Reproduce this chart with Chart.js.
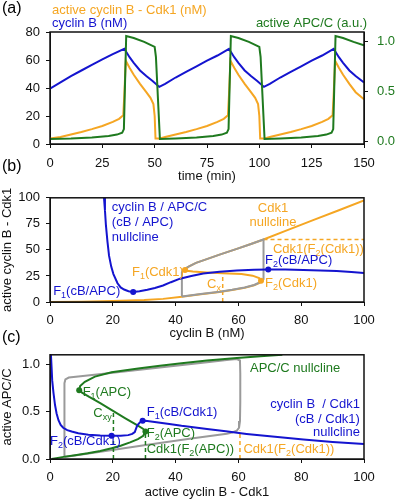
<!DOCTYPE html>
<html>
<head>
<meta charset="utf-8">
<script src="https://cdn.jsdelivr.net/npm/chart.js@4.4.1/dist/chart.umd.min.js"></script>
<style>
  html, body { margin: 0; padding: 0; background: #fff; }
  #page { position: relative; width: 396px; height: 500px; overflow: hidden;
          font-family: "Liberation Sans", Arial, sans-serif; }
  canvas { position: absolute; left: 0; }
  .tag { position: absolute; left: 2px; font-size: 16px; line-height: 16px; color: #000; }
</style>
</head>
<body>
<div id="page">
  <canvas id="ca" width="396" height="184" style="top:0"></canvas>
  <canvas id="cb" width="396" height="157" style="top:184px"></canvas>
  <canvas id="cc" width="396" height="159" style="top:341px"></canvas>
  <div class="tag" style="top:0">(a)</div>
  <div class="tag" style="top:158px">(b)</div>
  <div class="tag" style="top:329px">(c)</div>
</div>
<script>
// ---- panel (a): time courses ----
const timeTicks = [0, 25, 50, 75, 100, 125, 150];
const nMTicks = [0, 20, 40, 60, 80];
const apcTicks = [0, 0.5, 1];

const cyclinBTime = [0, 5, 10, 15, 20, 25, 30, 35.5, 38, 40, 43, 46, 49, 52.2,
  55, 60, 65, 70, 75, 80, 85.5, 88, 90, 93, 96, 99, 102.2,
  105, 110, 115, 120, 125, 130, 135.5, 138, 140, 143, 146, 150];
const cyclinB = [39.5, 44, 48.5, 52.5, 56.5, 60.5, 64.2, 68, 62, 58, 52.5, 48.5, 45, 40.8,
  43, 47.5, 51.5, 55.5, 59.5, 63.2, 68, 62, 58, 52.5, 48.5, 45, 40.8,
  43, 47.5, 51.5, 55.5, 59.5, 63.2, 68, 62, 58, 52.5, 48.5, 44];

const cdk1Time = [0, 5, 10, 15, 20, 25, 30, 33, 35, 35.5, 36.2, 38, 40, 43, 46, 48, 49.4, 50, 50.4, 52.5,
  55, 60, 65, 70, 75, 80, 83, 85, 85.5, 86.2, 88, 90, 93, 96, 98, 99.4, 100, 100.4, 102.5,
  105, 110, 115, 120, 125, 130, 133, 135, 135.5, 136.2, 138, 140, 143, 146, 150];
const cdk1 = [4, 5, 6.8, 8.6, 10.6, 12.9, 15.8, 18, 20.5, 35, 59.5, 54.5, 49.5, 43, 37, 33, 28.5, 20, 4, 4,
  5, 6.8, 8.6, 10.6, 12.9, 15.8, 18, 20.5, 35, 59.5, 54.5, 49.5, 43, 37, 33, 28.5, 20, 4, 4,
  5, 6.8, 8.6, 10.6, 12.9, 15.8, 18, 20.5, 35, 59.5, 54.5, 49.5, 43, 37, 32];

const apcTime = [0, 10, 20, 28, 32, 34.5, 35.3, 36.4, 40, 45, 50, 50.6, 52.5,
  60, 70, 78, 82, 84.5, 85.3, 86.4, 90, 95, 100, 100.6, 102.5,
  110, 120, 128, 132, 134.5, 135.3, 136.4, 140, 145, 150];
const apc = [0.02, 0.025, 0.035, 0.05, 0.065, 0.085, 0.12, 1.06, 1.04, 1.0, 0.95, 0.85, 0.02,
  0.025, 0.035, 0.05, 0.065, 0.085, 0.12, 1.06, 1.04, 1.0, 0.95, 0.85, 0.02,
  0.025, 0.035, 0.05, 0.065, 0.085, 0.12, 1.06, 1.04, 1.0, 0.965];

// ---- panel (b): cyclin B vs active cyclin B-Cdk1 ----
const bXTicks = [0, 20, 40, 60, 80, 100];
const bYTicks = [0, 25, 50, 75, 100];

const bApcNullX = [17.2, 17.5, 17.8, 18.3, 18.8, 19.5, 20.2, 21.5, 22.5, 23.6, 25, 26.5, 28.5, 31, 33.4, 36,
  38.5, 41.4, 45, 48.8, 54, 59.5, 65, 69.5, 75, 80.7, 86, 91.3, 96, 100];
const bApcNullY = [100, 88, 74, 58, 44.5, 34, 26.8, 18, 14, 12, 10.3, 9.7, 10.3, 11.8, 13.5, 15.8,
  19, 22.4, 25, 27.4, 29, 30.2, 31, 31.3, 31.1, 30.7, 30.3, 29.8, 28.8, 27.8];

const bCdk1NullX = [0, 10, 20, 30, 36, 42, 48, 54, 58, 62, 65, 66.7, 67.2, 66.6, 64.5, 61, 55, 50, 45.5, 43.6, 43,
  43.4, 44.3, 46.5, 48.8, 54, 59.5, 64, 68, 75, 84, 92, 100];
const bCdk1NullY = [0, 0.3, 0.9, 1.9, 3, 5, 7.5, 9.7, 11.5, 13.7, 16, 18.2, 20.4, 23, 25.3, 26.8, 27.6, 28.4, 29.2, 29.9, 30.7,
  32.2, 34.2, 37.6, 40, 45.5, 51, 55.7, 60, 68.3, 78.8, 88, 97.5];

const bTrajX = [42, 48, 54, 58, 62, 65, 67.3, 68, 68, 64, 59.5, 54, 48.8, 46.5, 44.3, 43.1, 42.2, 42, 42];
const bTrajY = [5.3, 7.7, 9.9, 11.7, 13.9, 16.3, 19.6, 22, 60, 55.7, 51, 45.5, 40, 37.6, 34.3, 32.2, 30.3, 28.5, 5.3];

const bCxX = [55, 55];
const bCxY = [0, 27.6];
const bLevelX = [68, 100];
const bLevelY = [60, 60];

const bApcFoldX = [26.5, 69.5];
const bApcFoldY = [9.7, 31.3];
const bCdk1FoldX = [43, 67.2];
const bCdk1FoldY = [30.7, 20.4];

// ---- panel (c): active cyclin B-Cdk1 vs active APC/C ----
const cXTicks = [0, 20, 40, 60, 80, 100];
const cYTicks = [0, 0.5, 1];

const cCdk1NullX = [0.3, 0.5, 0.7, 1.1, 1.6, 2.1, 2.7, 3.4, 4.2, 5.5, 6.9, 9, 12.2, 16, 19.6, 22.5, 24.9, 26.2,
  27, 27.4, 27.8, 28.6, 29.5, 31, 34.5, 38, 41.9, 50, 56, 62.6, 70, 80.7, 90, 100];
const cCdk1NullY = [1.1, 0.97, 0.83, 0.7, 0.57, 0.48, 0.41, 0.36, 0.33, 0.305, 0.29, 0.272, 0.257, 0.249, 0.245, 0.246, 0.252, 0.265,
  0.285, 0.32, 0.355, 0.385, 0.405, 0.402, 0.385, 0.37, 0.35, 0.317, 0.292, 0.265, 0.24, 0.207, 0.18, 0.158];

const cApcNullX = [0.5, 2.5, 4.8, 8, 12, 16, 19.6, 22.5, 25.5, 28, 29.7, 30.4, 29.6, 27.6, 24, 20.2, 16, 12.5, 10.2, 9.3,
  9.6, 11.1, 14.3, 19.6, 28.1, 35, 41.9, 50, 59.5, 67, 74];
const cApcNullY = [0, 0.012, 0.025, 0.04, 0.06, 0.085, 0.113, 0.14, 0.175, 0.21, 0.245, 0.29, 0.32, 0.36, 0.43, 0.505, 0.59, 0.655, 0.7, 0.73,
  0.77, 0.815, 0.87, 0.915, 0.955, 0.985, 1.012, 1.04, 1.065, 1.085, 1.1];

const cTrajX = [4.6, 4.6, 4.9, 6, 9, 20, 30, 40, 50, 57, 59.5, 60.5, 60.6, 60.6, 60.5, 60.2, 59.5, 58, 56.3, 45, 30, 15, 4.6];
const cTrajY = [0.022, 0.8, 0.84, 0.86, 0.872, 0.91, 0.947, 0.985, 1.022, 1.048, 1.055, 1.04, 0.9, 0.6, 0.4, 0.33, 0.3, 0.28, 0.266, 0.216, 0.144, 0.072, 0.022];

const cCxyX = [20.2, 20.2];
const cCxyY = [0, 0.505];
const cApcFoldLineX = [30.4, 30.4];
const cApcFoldLineY = [0, 0.29];
const cCdk1LevelX = [60.5, 60.5];
const cCdk1LevelY = [0, 0.3];

const cApcFoldX = [9.3, 30.4];
const cApcFoldY = [0.725, 0.29];
const cCdk1FoldX = [19.6, 29.5];
const cCdk1FoldY = [0.245, 0.405];

// ---- styling ----
const FONT = '"Liberation Sans", Arial, sans-serif';
const BLUE = '#1414cf';
const ORANGE = '#f5a623';
const GREEN = '#1f7a1f';
const GRAY = '#9a9a9a';
const BLACK = '#111';

const pts = (xs, ys) => xs.map((x, i) => ({ x, y: ys[i] }));

function curve(xs, ys, color, extra) {
  return Object.assign({
    data: pts(xs, ys),
    borderColor: color,
    backgroundColor: color,
    borderWidth: 2,
    pointRadius: 0,
    showLine: true,
    tension: 0,
  }, extra || {});
}

function dashed(xs, ys, color) {
  return curve(xs, ys, color, { borderWidth: 1.5, borderDash: [4, 3] });
}

function dots(xs, ys, color) {
  return {
    data: pts(xs, ys),
    showLine: false,
    pointRadius: 3,
    pointBorderWidth: 0,
    backgroundColor: color,
    borderColor: color,
  };
}

function fixedTicks(values) {
  return (scale) => { scale.ticks = values.map((v) => ({ value: v })); };
}

function tickOpts(color, padding, fmt) {
  const t = { color, font: { family: FONT, size: 13 }, padding, maxRotation: 0, autoSkip: false };
  if (fmt) t.callback = fmt;
  return t;
}

function axis(min, max, tickValues, extra) {
  const a = {
    type: 'linear',
    min, max,
    afterBuildTicks: fixedTicks(tickValues),
    grid: { display: true, drawOnChartArea: false, drawTicks: true, tickLength: 4, color: BLACK, lineWidth: 1 },
    border: { display: true, color: BLACK, width: 1 },
    ticks: tickOpts(BLACK, 6),
  };
  return Object.assign(a, extra || {});
}

function title(text) {
  return { display: true, text, color: BLACK, font: { family: FONT, size: 13 }, padding: { top: 0, bottom: 0 } };
}

// rich text with {subscript} parts
function drawRich(ctx, text, x, y, align, color) {
  const parts = text.split(/(\{[^}]*\})/).filter(Boolean)
    .map((p) => (p[0] === '{' ? { t: p.slice(1, -1), sub: true } : { t: p, sub: false }));
  const big = '13px ' + FONT;
  const small = '9px ' + FONT;
  let w = 0;
  parts.forEach((p) => { ctx.font = p.sub ? small : big; p.w = ctx.measureText(p.t).width; w += p.w; });
  let cx = align === 'right' ? x - w : align === 'center' ? x - w / 2 : x;
  ctx.fillStyle = color;
  ctx.textBaseline = 'middle';
  ctx.textAlign = 'left';
  parts.forEach((p) => {
    ctx.font = p.sub ? small : big;
    ctx.fillText(p.t, cx, p.sub ? y + 4 : y);
    cx += p.w;
  });
}

const notesPlugin = {
  id: 'notes',
  afterDatasetsDraw(chart, args, opts) {
    const { ctx, scales } = chart;
    ctx.save();
    (opts.items || []).forEach((n) => {
      const ys = scales[n.axis || 'y'];
      drawRich(ctx, n.text, scales.x.getPixelForValue(n.x), ys.getPixelForValue(n.y), n.align || 'left', n.color);
    });
    ctx.restore();
  },
};

const framePlugin = {
  id: 'frame',
  afterDraw(chart) {
    const { ctx, chartArea: a } = chart;
    ctx.save();
    ctx.strokeStyle = BLACK;
    ctx.lineWidth = 1.5;
    ctx.strokeRect(a.left, a.top, a.right - a.left, a.bottom - a.top);
    ctx.restore();
  },
};

Chart.register(notesPlugin, framePlugin);

const common = {
  responsive: false,
  animation: false,
  devicePixelRatio: 1,
  events: [],
};

const aNotes = [
  { x: 1, y: 95.7, text: 'active cyclin B - Cdk1 (nM)', color: ORANGE },
  { x: 1, y: 86.4, text: 'cyclin B (nM)', color: BLUE },
  { x: 151.5, y: 86.4, text: 'active APC/C (a.u.)', color: GREEN, align: 'right' },
];

new Chart(document.getElementById('ca'), {
  type: 'scatter',
  data: {
    datasets: [
      curve(apcTime, apc, GREEN, { yAxisID: 'y2' }),
      curve(cyclinBTime, cyclinB, BLUE),
      curve(cdk1Time, cdk1, ORANGE),
    ],
  },
  options: Object.assign({}, common, {
    layout: { padding: { top: 32, left: 0, right: 0, bottom: 0 } },
    plugins: { legend: { display: false }, tooltip: { enabled: false }, notes: { items: aNotes } },
    scales: {
      x: axis(0, 150, timeTicks, {
        position: 'bottom', title: title('time (min)'),
        ticks: tickOpts(BLACK, 8),
        afterFit: (s) => { s.height = 40; },
      }),
      y: axis(0, 80, nMTicks, { position: 'left', afterFit: (s) => { s.width = 50; } }),
      y2: axis(-0.03, 1.1, apcTicks, {
        position: 'right',
        afterFit: (s) => { s.width = 32; },
        ticks: tickOpts(GREEN, 9, (v) => v.toFixed(1)),
      }),
    },
  }),
});

const bNotes = [
  { x: 19.7, y: 90.3, text: 'cyclin B / APC/C', color: BLUE },
  { x: 19.7, y: 76.4, text: '(cB / APC)', color: BLUE },
  { x: 19.7, y: 62.2, text: 'nullcline', color: BLUE },
  { x: 71, y: 89.4, text: 'Cdk1', color: ORANGE, align: 'center' },
  { x: 71, y: 76.4, text: 'nullcline', color: ORANGE, align: 'center' },
  { x: 71, y: 50.4, text: 'Cdk1(F{2}(Cdk1))', color: ORANGE },
  { x: 68.5, y: 40.1, text: 'F{2}(cB/APC)', color: BLUE },
  { x: 26.1, y: 28.3, text: 'F{1}(Cdk1)', color: ORANGE },
  { x: 50, y: 16.8, text: 'C{x}', color: ORANGE },
  { x: 68.5, y: 17.7, text: 'F{2}(Cdk1)', color: ORANGE },
  { x: 1, y: 9.7, text: 'F{1}(cB/APC)', color: BLUE },
];

new Chart(document.getElementById('cb'), {
  type: 'scatter',
  data: {
    datasets: [
      dots(bApcFoldX, bApcFoldY, BLUE),
      dots(bCdk1FoldX, bCdk1FoldY, ORANGE),
      curve(bApcNullX, bApcNullY, BLUE),
      curve(bTrajX, bTrajY, GRAY),
      dashed(bCxX, bCxY, ORANGE),
      dashed(bLevelX, bLevelY, ORANGE),
      curve(bCdk1NullX, bCdk1NullY, ORANGE),
    ],
  },
  options: Object.assign({}, common, {
    layout: { padding: { top: 5, left: 0, right: 32, bottom: 0 } },
    plugins: { legend: { display: false }, tooltip: { enabled: false }, notes: { items: bNotes } },
    scales: {
      x: axis(0, 100, bXTicks, {
        position: 'bottom', title: title('cyclin B (nM)'),
        ticks: tickOpts(BLACK, 7),
        afterFit: (s) => { s.height = 39; },
      }),
      y: axis(0, 100, bYTicks, { position: 'left', title: title('active cyclin B - Cdk1'), afterFit: (s) => { s.width = 50; } }),
    },
  }),
});

const cNotes = [
  { x: 63.7, y: 0.961, text: 'APC/C nullcline', color: GREEN },
  { x: 10.4, y: 0.70, text: 'F{1}(APC)', color: GREEN },
  { x: 13.8, y: 0.476, text: 'C{xy}', color: GREEN },
  { x: 30.8, y: 0.49, text: 'F{1}(cB/Cdk1)', color: BLUE },
  { x: 98.7, y: 0.573, text: 'cyclin B  / Cdk1', color: BLUE, align: 'right' },
  { x: 98.7, y: 0.42, text: '(cB / Cdk1)', color: BLUE, align: 'right' },
  { x: 98.7, y: 0.28, text: 'nullcline', color: BLUE, align: 'right' },
  { x: 0, y: 0.184, text: 'F{2}(cB/Cdk1)', color: BLUE },
  { x: 30.8, y: 0.265, text: 'F{2}(APC)', color: GREEN },
  { x: 30.8, y: 0.104, text: 'Cdk1(F{2}(APC))', color: GREEN },
  { x: 61.6, y: 0.104, text: 'Cdk1(F{2}(Cdk1))', color: ORANGE },
];

new Chart(document.getElementById('cc'), {
  type: 'scatter',
  data: {
    datasets: [
      dots(cCdk1FoldX, cCdk1FoldY, BLUE),
      dots(cApcFoldX, cApcFoldY, GREEN),
      curve(cCdk1NullX, cCdk1NullY, BLUE),
      curve(cApcNullX, cApcNullY, GREEN),
      dashed(cCxyX, cCxyY, GREEN),
      dashed(cApcFoldLineX, cApcFoldLineY, GREEN),
      dashed(cCdk1LevelX, cCdk1LevelY, ORANGE),
      curve(cTrajX, cTrajY, GRAY),
    ],
  },
  options: Object.assign({}, common, {
    layout: { padding: { top: 5, left: 0, right: 32, bottom: 0 } },
    plugins: { legend: { display: false }, tooltip: { enabled: false }, notes: { items: cNotes } },
    scales: {
      x: axis(0, 100, cXTicks, {
        position: 'bottom', title: title('active cyclin B - Cdk1'),
        ticks: tickOpts(BLACK, 7),
        afterFit: (s) => { s.height = 41; },
      }),
      y: axis(0, 1.1, cYTicks, {
        position: 'left',
        title: title('active APC/C'),
        afterFit: (s) => { s.width = 50; },
        ticks: tickOpts(BLACK, 6, (v) => v.toFixed(1)),
      }),
    },
  }),
});
</script>
</body>
</html>
